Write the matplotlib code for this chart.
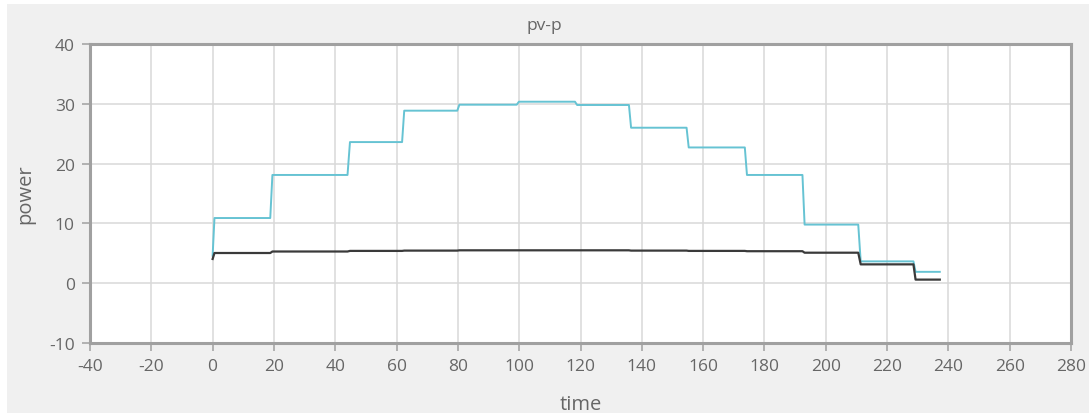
import matplotlib.pyplot as plt
from matplotlib.patches import Rectangle

# step points
pv_time = [0, 0.6, 18.8, 19.5, 44.0, 44.8, 61.8, 62.5, 79.8, 80.5, 99.2, 99.9,
           118.2, 118.9, 135.8, 136.5, 154.6, 155.3, 173.6, 174.3, 192.4, 193.1,
           210.6, 211.4, 228.6, 229.3, 237.2]
pv_power = [4.6, 10.9, 10.9, 18.1, 18.1, 23.6, 23.6, 28.85, 28.85, 29.85, 29.85, 30.35,
            30.35, 29.8, 29.8, 26.0, 26.0, 22.7, 22.7, 18.1, 18.1, 9.8,
            9.8, 3.65, 3.65, 1.9, 1.9]
p_power = [4.05, 5.05, 5.05, 5.3, 5.3, 5.4, 5.4, 5.45, 5.45, 5.5, 5.5, 5.5,
           5.5, 5.5, 5.5, 5.45, 5.45, 5.4, 5.4, 5.35, 5.35, 5.1,
           5.1, 3.15, 3.15, 0.6, 0.6]

x_ticks = list(range(-40, 281, 20))
y_ticks = list(range(-10, 41, 10))


def main():
    plt.rcParams['font.family'] = ['Open Sans', 'DejaVu Sans']
    plt.rcParams['axes.unicode_minus'] = False
    txt = '#666666'

    fig = plt.figure(figsize=(10.89, 4.14), dpi=100, facecolor='white')
    fig.patches.append(Rectangle((7 / 1089, 0), 1, 1 - 5 / 414,
                                 transform=fig.transFigure,
                                 facecolor='#f0f0f0', edgecolor='none', zorder=-1))

    ax = fig.add_axes([90 / 1089, 1 - 344 / 414, 981 / 1089, 299 / 414])
    ax.set_facecolor('white')

    ax.plot(pv_time, pv_power, color='#66c3d3', linewidth=1.4)
    ax.plot(pv_time, p_power, color='#3a3a3a', linewidth=1.6)

    ax.set_xlim(-40, 280)
    ax.set_ylim(-10, 40)
    ax.set_xticks(x_ticks)
    ax.set_yticks(y_ticks)
    ax.grid(True, color='#d9d9d9', linewidth=1.1)
    ax.set_axisbelow(True)

    for s in ax.spines.values():
        s.set_color('#a0a0a0')
        s.set_linewidth(2.2)
    ax.tick_params(colors='#a0a0a0', labelcolor=txt, labelsize=12.5,
                   length=6, width=1.1, pad=5)

    ax.set_xlabel('time', fontsize=14.5, color=txt, labelpad=14)
    ax.set_ylabel('power', fontsize=14.5, color=txt, labelpad=10)
    fig.text(0.5, 1 - 26 / 414, 'pv-p', ha='center', va='center',
             fontsize=12.5, color=txt)

    plt.savefig('out.png', dpi=100)


if __name__ == '__main__':
    main()
